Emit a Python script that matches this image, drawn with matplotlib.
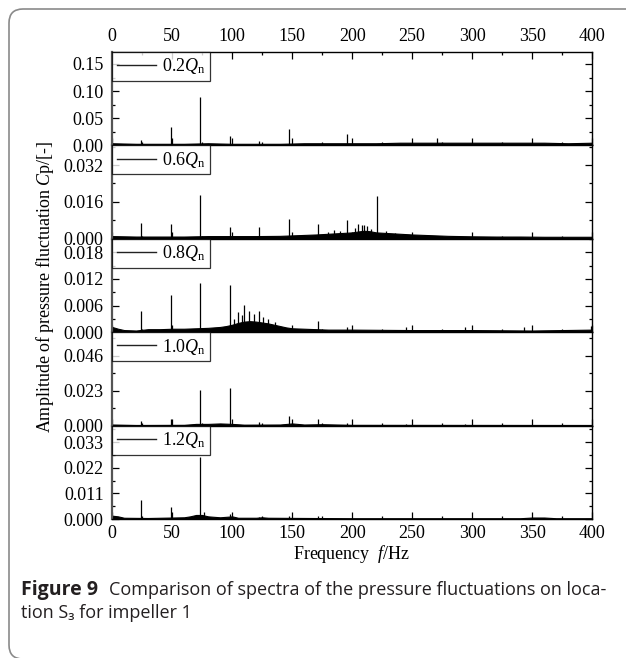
import numpy as np
import matplotlib.pyplot as plt
from matplotlib.patches import FancyBboxPatch
from matplotlib.ticker import MultipleLocator, FormatStrFormatter

plt.rcParams['font.family'] = ['Liberation Serif', 'DejaVu Serif']
plt.rcParams['mathtext.fontset'] = 'custom'
plt.rcParams['mathtext.rm'] = 'Liberation Serif'
plt.rcParams['mathtext.it'] = 'Liberation Serif:italic'
plt.rcParams['mathtext.sf'] = 'Open Sans'
plt.rcParams['font.size'] = 13

# ---- spectra: discrete peaks + broadband floor envelope ----
labels = [r'0.2$Q_{\mathrm{n}}$', r'0.6$Q_{\mathrm{n}}$', r'0.8$Q_{\mathrm{n}}$',
          r'1.0$Q_{\mathrm{n}}$', r'1.2$Q_{\mathrm{n}}$']

q02_peak_f = [24.5, 49, 73.5, 98, 122.5, 147, 196, 271]
q02_peak_a = [0.010, 0.033, 0.090, 0.018, 0.008, 0.030, 0.021, 0.014]
q02_floor_f = [0, 20, 40, 60, 80, 100, 120, 140, 160, 180, 200, 220, 240,
               260, 280, 300, 320, 340, 360, 380, 400]
q02_floor_a = [0.004, 0.003, 0.003, 0.003, 0.004, 0.003, 0.003, 0.003, 0.004,
               0.004, 0.004, 0.004, 0.005, 0.005, 0.005, 0.005, 0.005, 0.005,
               0.005, 0.004, 0.005]

q06_peak_f = [24.5, 49, 73.5, 98, 122.5, 147, 171.5, 180, 185, 190, 196, 202,
              205, 208, 210, 212, 216, 220.5, 228, 236]
q06_peak_a = [0.0067, 0.0063, 0.0190, 0.0053, 0.0053, 0.0086, 0.0064, 0.0030,
              0.0037, 0.0034, 0.0081, 0.0045, 0.0063, 0.0060, 0.0058, 0.0055,
              0.0042, 0.0185, 0.0032, 0.0026]
q06_floor_f = [0, 20, 40, 60, 80, 100, 120, 140, 160, 170, 180, 190, 200, 205,
               210, 215, 220, 230, 240, 250, 260, 270, 280, 300, 320, 340, 360,
               380, 400]
q06_floor_a = [0.0012, 0.0010, 0.0010, 0.0010, 0.0012, 0.0012, 0.0012, 0.0013,
               0.0017, 0.0019, 0.0022, 0.0025, 0.0028, 0.0032, 0.0035, 0.0033,
               0.0028, 0.0025, 0.0022, 0.0019, 0.0017, 0.0015, 0.0013, 0.0011,
               0.0010, 0.0010, 0.0009, 0.0009, 0.0009]

q08_peak_f = [24.5, 49, 73.5, 98, 102, 105, 108, 110, 114, 118, 122.5, 126,
              130, 136, 171.5, 196, 245, 294, 343, 399]
q08_peak_a = [0.0048, 0.0083, 0.0110, 0.0107, 0.0030, 0.0046, 0.0038, 0.0061,
              0.0048, 0.0042, 0.0048, 0.0034, 0.0030, 0.0024, 0.0025, 0.0013,
              0.0013, 0.0013, 0.0013, 0.0015]
q08_floor_f = [0, 5, 10, 20, 30, 40, 50, 60, 70, 80, 90, 95, 100, 105, 110, 115,
               120, 125, 130, 135, 140, 145, 150, 160, 180, 200, 250, 300, 350, 400]
q08_floor_a = [0.0012, 0.0008, 0.0005, 0.0004, 0.0007, 0.0007, 0.0008, 0.0008,
               0.0009, 0.0010, 0.0012, 0.0014, 0.0017, 0.0021, 0.0024, 0.0025,
               0.0024, 0.0022, 0.0020, 0.0017, 0.0014, 0.0011, 0.0009, 0.0008,
               0.0006, 0.0006, 0.0005, 0.0005, 0.0004, 0.0006]

q10_peak_f = [24.5, 49, 73.5, 98, 122.5, 147, 171.5, 196, 245, 294]
q10_peak_a = [0.0030, 0.0045, 0.0236, 0.0250, 0.0025, 0.0062, 0.0042, 0.0015,
              0.0010, 0.0010]
q10_floor_f = [0, 20, 60, 70, 80, 90, 100, 110, 140, 150, 160, 175, 200, 400]
q10_floor_a = [0.0008, 0.0005, 0.0006, 0.0012, 0.0012, 0.0015, 0.0012, 0.0007,
               0.0008, 0.0015, 0.0008, 0.0010, 0.0006, 0.0005]

q12_peak_f = [2, 24.5, 49, 73.5, 77, 98, 122.5, 147, 171.5]
q12_peak_a = [0.0015, 0.0082, 0.0054, 0.0268, 0.0032, 0.0022, 0.0010, 0.0012, 0.0012]
q12_floor_f = [0, 5, 10, 30, 60, 65, 70, 75, 80, 90, 100, 105, 120, 125, 130,
               200, 340, 350, 360, 370, 400]
q12_floor_a = [0.0015, 0.0012, 0.0006, 0.0005, 0.0008, 0.0012, 0.0018, 0.0018,
               0.0012, 0.0008, 0.0012, 0.0006, 0.0006, 0.0008, 0.0006, 0.0004,
               0.0004, 0.0007, 0.0007, 0.0004, 0.0004]

peaks_f = [q02_peak_f, q06_peak_f, q08_peak_f, q10_peak_f, q12_peak_f]
peaks_a = [q02_peak_a, q06_peak_a, q08_peak_a, q10_peak_a, q12_peak_a]
floors_f = [q02_floor_f, q06_floor_f, q08_floor_f, q10_floor_f, q12_floor_f]
floors_a = [q02_floor_a, q06_floor_a, q08_floor_a, q10_floor_a, q12_floor_a]

y_max = [0.172, 0.0405, 0.021, 0.0613, 0.0400]
y_major = [0.05, 0.016, 0.006, 0.023, 0.011]
y_fmt = ['%.2f', '%.3f', '%.3f', '%.3f', '%.3f']

fig = plt.figure(figsize=(6.26, 6.58), dpi=100)
axes = fig.subplots(5, 1, sharex=True, gridspec_kw=dict(hspace=0))
fig.subplots_adjust(left=0.179, right=0.946, top=0.921, bottom=0.211)

for i, ax in enumerate(axes):
    ax.fill_between(floors_f[i], 0, floors_a[i], color='black', lw=0.8)
    ax.vlines(peaks_f[i], 0, peaks_a[i], color='black', lw=0.9)
    ax.plot([], [], color='#222222', lw=1.0, label=labels[i])

    ax.set_xlim(0, 400)
    ax.set_ylim(0, y_max[i])
    ax.xaxis.set_major_locator(MultipleLocator(50))
    ax.xaxis.set_minor_locator(MultipleLocator(25))
    ax.yaxis.set_major_locator(MultipleLocator(y_major[i]))
    ax.yaxis.set_minor_locator(MultipleLocator(y_major[i] / 2))
    ax.yaxis.set_major_formatter(FormatStrFormatter(y_fmt[i]))

    ax.tick_params(axis='x', which='both', direction='in', bottom=True,
                   top=(i == 0), labeltop=(i == 0), labelbottom=(i == 4))
    ax.tick_params(axis='y', which='both', direction='in', left=True, right=True)
    ax.tick_params(which='major', length=5, width=0.9)
    ax.tick_params(which='minor', length=2.5, width=0.9)
    ax.tick_params(axis='y', which='major', pad=6)
    ax.tick_params(axis='x', which='major', pad=5 if i == 0 else 4)
    for s in ax.spines.values():
        s.set_linewidth(1.0)
    ax.spines['left'].set_color('#555555')
    ax.spines['left'].set_linewidth(1.6)

    leg = ax.legend(loc='upper left', borderaxespad=0, fancybox=False,
                    handlelength=2.2, handletextpad=0.3, borderpad=0.25,
                    fontsize=13)
    leg.get_frame().set_edgecolor('black')
    leg.get_frame().set_linewidth(0.9)

fig.text(0.072, 0.565, r'Amplitude of pressure fluctuation $C$p/[-]',
         rotation=90, ha='center', va='center', fontsize=13)
fig.text(352 / 626, 1 - 554 / 658, r'Frequency  $f$/Hz', ha='center',
         va='center', fontsize=13)

cap = dict(family=['Open Sans', 'DejaVu Sans'], color='#231f20',
           va='center', ha='left')
fig.text(21 / 626, 1 - 590 / 658, 'Figure 9', weight='bold', fontsize=14, **cap)
fig.text(109 / 626, 1 - 590 / 658,
         'Comparison of spectra of the pressure fluctuations on loca-',
         fontsize=13.0, **cap)
fig.text(21 / 626, 1 - 613 / 658, 'tion S\u2083 for impeller 1', fontsize=13.0, **cap)

fig.patches.append(FancyBboxPatch((9, -1), 700, 650, transform=None,
                                  boxstyle='round,pad=0,rounding_size=14',
                                  fill=False, edgecolor='#8a8a8a', lw=1.2))

fig.savefig('out.png', dpi=100)
